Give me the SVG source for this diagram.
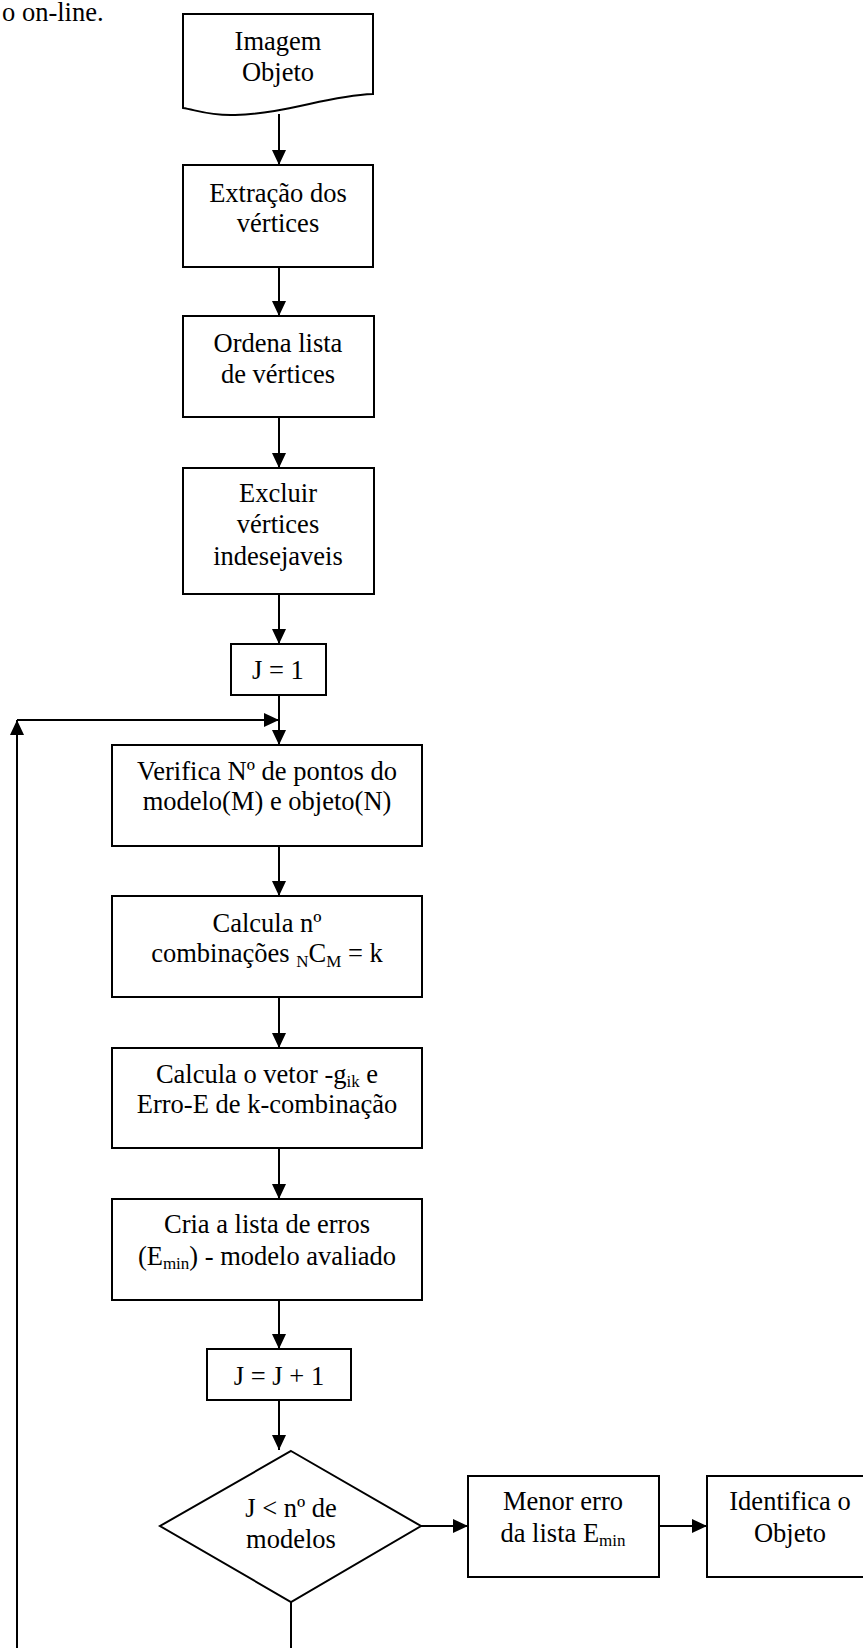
<svg xmlns="http://www.w3.org/2000/svg" width="863" height="1648" viewBox="0 0 863 1648">
<defs>
<marker id="ah" markerUnits="userSpaceOnUse" markerWidth="16" markerHeight="16" viewBox="0 0 16 16" refX="15" refY="8" orient="auto">
<path d="M0,1 L15,8 L0,15 Z" fill="#000"/>
</marker>
<style>
.box{fill:#fff;stroke:#000;stroke-width:2}
.t{font-family:"Liberation Serif","Times New Roman",serif;font-size:26.5px;fill:#000;text-anchor:middle}
.s{font-size:17px}
.c{fill:none;stroke:#000;stroke-width:2}
</style>
</defs>
<rect width="863" height="1648" fill="#fff"/>
<text class="t" x="2" y="21" style="text-anchor:start">o on-line.</text>
<g id="connectors">
<line class="c" x1="279" y1="114" x2="279" y2="165" marker-end="url(#ah)"/>
<line class="c" x1="279" y1="267" x2="279" y2="316" marker-end="url(#ah)"/>
<line class="c" x1="279" y1="417" x2="279" y2="468" marker-end="url(#ah)"/>
<line class="c" x1="279" y1="594" x2="279" y2="644" marker-end="url(#ah)"/>
<line class="c" x1="279" y1="695" x2="279" y2="745" marker-end="url(#ah)"/>
<line class="c" x1="279" y1="846" x2="279" y2="896" marker-end="url(#ah)"/>
<line class="c" x1="279" y1="997" x2="279" y2="1048" marker-end="url(#ah)"/>
<line class="c" x1="279" y1="1148" x2="279" y2="1199" marker-end="url(#ah)"/>
<line class="c" x1="279" y1="1300" x2="279" y2="1349" marker-end="url(#ah)"/>
<line class="c" x1="279" y1="1400" x2="279" y2="1450" marker-end="url(#ah)"/>
<line class="c" x1="421" y1="1526" x2="468" y2="1526" marker-end="url(#ah)"/>
<line class="c" x1="659" y1="1526" x2="707" y2="1526" marker-end="url(#ah)"/>
<line class="c" x1="291" y1="1602" x2="291" y2="1650"/>
<line class="c" x1="17" y1="1650" x2="17" y2="720" marker-end="url(#ah)"/>
<line class="c" x1="17" y1="720" x2="279" y2="720" marker-end="url(#ah)"/>
</g>
<g id="n-imagem">
<path class="box" d="M183,14 L373,14 L373,94 C325,96 290,113 235,115 C210,116 196,110 183,108 Z"/>
<text class="t" x="278" y="50">Imagem</text>
<text class="t" x="278" y="81">Objeto</text>
</g>
<g id="n-extracao">
<rect class="box" x="183" y="165" width="190" height="102"/>
<text class="t" x="278" y="202">Extração dos</text>
<text class="t" x="278" y="232">vértices</text>
</g>
<g id="n-ordena">
<rect class="box" x="183" y="316" width="191" height="101"/>
<text class="t" x="278" y="352">Ordena lista</text>
<text class="t" x="278" y="383">de vértices</text>
</g>
<g id="n-excluir">
<rect class="box" x="183" y="468" width="191" height="126"/>
<text class="t" x="278" y="502">Excluir</text>
<text class="t" x="278" y="533">vértices</text>
<text class="t" x="278" y="565">indesejaveis</text>
</g>
<g id="n-j1">
<rect class="box" x="231" y="644" width="95" height="51"/>
<text class="t" x="278" y="679">J = 1</text>
</g>
<g id="n-verifica">
<rect class="box" x="112" y="745" width="310" height="101"/>
<text class="t" x="267" y="780">Verifica Nº de pontos do</text>
<text class="t" x="267" y="810">modelo(M) e objeto(N)</text>
</g>
<g id="n-calcula">
<rect class="box" x="112" y="896" width="310" height="101"/>
<text class="t" x="267" y="932">Calcula  nº</text>
<text class="t" x="267" y="962">combinações <tspan class="s" dy="5">N</tspan><tspan dy="-5">C</tspan><tspan class="s" dy="5">M</tspan><tspan dy="-5"> = k</tspan></text>
</g>
<g id="n-vetor">
<rect class="box" x="112" y="1048" width="310" height="100"/>
<text class="t" x="267" y="1083">Calcula o vetor -g<tspan class="s" dy="4">ik</tspan><tspan dy="-4"> e</tspan></text>
<text class="t" x="267" y="1113">Erro-E de k-combinação</text>
</g>
<g id="n-cria">
<rect class="box" x="112" y="1199" width="310" height="101"/>
<text class="t" x="267" y="1233">Cria a lista de erros</text>
<text class="t" x="267" y="1265">(E<tspan class="s" dy="4">min</tspan><tspan dy="-4">) - modelo avaliado</tspan></text>
</g>
<g id="n-jinc">
<rect class="box" x="207" y="1349" width="144" height="51"/>
<text class="t" x="279" y="1385">J = J + 1</text>
</g>
<g id="n-decisao">
<path class="box" d="M291,1451 L421,1526 L291,1602 L160,1526 Z"/>
<text class="t" x="291" y="1517">J &lt; nº de</text>
<text class="t" x="291" y="1548">modelos</text>
</g>
<g id="n-menor">
<rect class="box" x="468" y="1476" width="191" height="101"/>
<text class="t" x="563" y="1510">Menor erro</text>
<text class="t" x="563" y="1542">da lista E<tspan class="s" dy="4">min</tspan></text>
</g>
<g id="n-identifica">
<rect class="box" x="707" y="1476" width="166" height="101"/>
<text class="t" x="790" y="1510">Identifica o</text>
<text class="t" x="790" y="1542">Objeto</text>
</g>
</svg>
